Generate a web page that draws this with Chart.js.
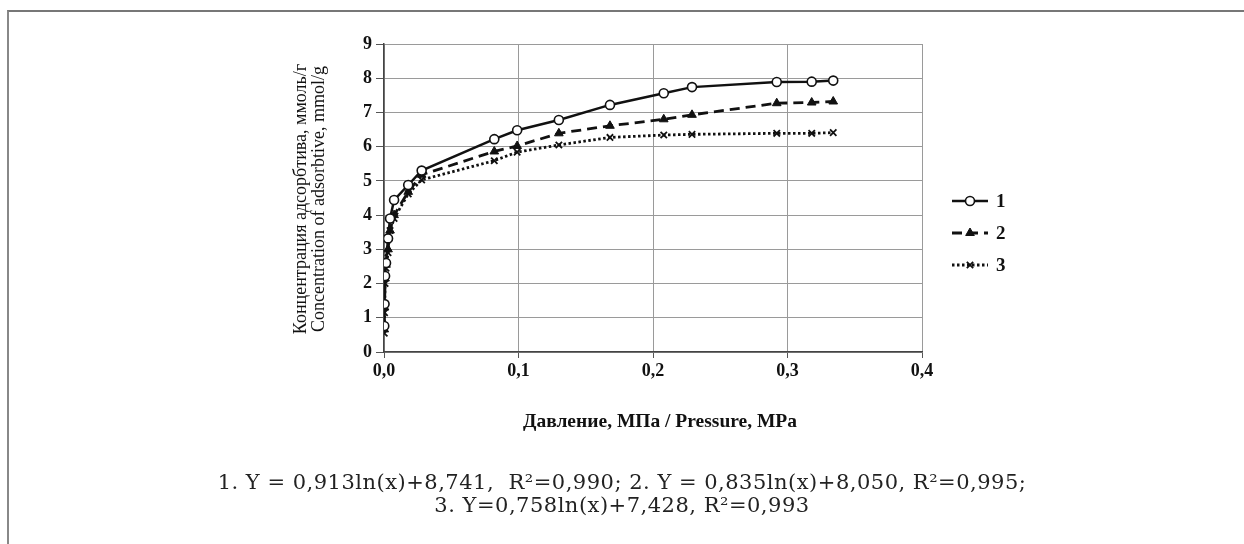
<!DOCTYPE html>
<html>
<head>
<meta charset="utf-8">
<script src="https://cdn.jsdelivr.net/npm/chart.js@4.4.1/dist/chart.umd.min.js"></script>
<style>
  html, body { margin: 0; padding: 0; background: #fff; }
  #wrap { position: relative; width: 1244px; height: 544px; overflow: hidden; }
  #frame { position: absolute; left: 7px; top: 10px; width: 1300px; height: 600px;
           border-top: 2px solid #777; border-left: 2px solid #888; }
  #chart { position: absolute; left: 0; top: 0; }
  #formula { position: absolute; left: 0; top: 471px; width: 1244px; text-align: center;
             font-family: "DejaVu Serif", serif; font-size: 21px; line-height: 23px; color: #222;
             letter-spacing: 0.5px; }
</style>
</head>
<body>
<div id="wrap">
  <div id="frame"></div>
  <canvas id="chart" width="1244" height="544"></canvas>
  <div id="formula">1. Y = 0,913ln(x)+8,741,&nbsp; R²=0,990; 2. Y = 0,835ln(x)+8,050, R²=0,995;<br>3. Y=0,758ln(x)+7,428, R²=0,993</div>
</div>
<script>
// Pressure, MPa (shared by all three isotherms)
const pressure = [0.0002, 0.0004, 0.0008, 0.0015, 0.003, 0.0045, 0.0075, 0.018, 0.028,
                  0.082, 0.099, 0.13, 0.168, 0.208, 0.229, 0.292, 0.318, 0.334];

// Concentration of adsorbtive, mmol/g
const series1 = [0.76, 1.40, 2.22, 2.60, 3.32, 3.90, 4.44, 4.88, 5.30,
                 6.22, 6.48, 6.78, 7.22, 7.56, 7.74, 7.89, 7.90, 7.93];
const series2 = [0.66, 1.30, 2.15, 2.55, 3.00, 3.55, 4.00, 4.68, 5.18,
                 5.86, 6.02, 6.39, 6.61, 6.80, 6.93, 7.27, 7.29, 7.32];
const series3 = [0.55, 1.15, 2.00, 2.45, 2.90, 3.55, 3.90, 4.62, 5.03,
                 5.59, 5.84, 6.05, 6.27, 6.34, 6.36, 6.39, 6.39, 6.41];

const seriesNames = ["1", "2", "3"];
const xTicks = [0, 0.1, 0.2, 0.3, 0.4];

const yTitle1 = "Концентрация адсорбтива, ммоль/г";
const yTitle2 = "Concentration of adsorbtive, mmol/g";
const xTitle = "Давление, МПа / Pressure, MPa";

function toPoints(values) {
  return values.map((y, i) => ({ x: pressure[i], y }));
}

const serif = "'Liberation Serif', 'Times New Roman', serif";

// Legend with line sample + marker, and the axis titles
const extrasPlugin = {
  id: "extras",
  afterDraw(chart) {
    const c = chart.ctx;
    c.save();
    c.fillStyle = "#111";

    // y title (two rotated lines)
    c.font = "18px " + serif;
    c.textAlign = "center";
    c.textBaseline = "middle";
    const cy = 199;
    c.save();
    c.translate(301, cy);
    c.rotate(-Math.PI / 2);
    c.fillText(yTitle1, 0, 0);
    c.restore();
    c.save();
    c.translate(319, cy);
    c.rotate(-Math.PI / 2);
    c.fillText(yTitle2, 0, 0);
    c.restore();

    // x title
    c.font = "bold 19.5px " + serif;
    c.fillText(xTitle, 660, 422);

    // legend
    const rows = [201, 233, 265];
    chart.data.datasets.forEach((ds, i) => {
      const y = rows[i];
      c.save();
      c.strokeStyle = ds.borderColor;
      c.lineWidth = ds.borderWidth;
      c.setLineDash(ds.borderDash || []);
      c.beginPath();
      c.moveTo(952, y);
      c.lineTo(988, y);
      c.stroke();
      c.restore();
      c.save();
      c.setLineDash([]);
      c.strokeStyle = ds.pointBorderColor;
      c.fillStyle = ds.pointBackgroundColor;
      c.lineWidth = ds.pointBorderWidth;
      Chart.helpers.drawPoint(c, {
        pointStyle: ds.pointStyle, radius: ds.pointRadius, rotation: 0, borderWidth: ds.pointBorderWidth
      }, 970, y);
      c.restore();
      c.fillStyle = "#111";
      c.font = "bold 19px " + serif;
      c.textAlign = "left";
      c.fillText(ds.label, 996, y + 1);
    });
    c.restore();
  }
};

new Chart(document.getElementById("chart").getContext("2d"), {
  type: "scatter",
  data: {
    datasets: [
      {
        label: seriesNames[0],
        data: toPoints(series1),
        showLine: true,
        borderColor: "#111",
        borderWidth: 2.5,
        pointStyle: "circle",
        pointRadius: 4.5,
        pointBackgroundColor: "#fff",
        pointBorderColor: "#111",
        pointBorderWidth: 1.6
      },
      {
        label: seriesNames[1],
        data: toPoints(series2),
        showLine: true,
        borderColor: "#111",
        borderWidth: 2.8,
        borderDash: [10, 6],
        pointStyle: "triangle",
        pointRadius: 5,
        pointBackgroundColor: "#111",
        pointBorderColor: "#111",
        pointBorderWidth: 1
      },
      {
        label: seriesNames[2],
        data: toPoints(series3),
        showLine: true,
        borderColor: "#111",
        borderWidth: 2.8,
        borderDash: [2.5, 2.5],
        pointStyle: "crossRot",
        pointRadius: 4.5,
        pointBackgroundColor: "#111",
        pointBorderColor: "#111",
        pointBorderWidth: 1.8
      }
    ]
  },
  options: {
    responsive: false,
    animation: false,
    layout: { padding: { left: 349, right: 322, top: 44, bottom: 162 } },
    plugins: { legend: { display: false }, tooltip: { enabled: false } },
    scales: {
      x: {
        type: "linear",
        min: 0,
        max: 0.4,
        afterBuildTicks: (scale) => { scale.ticks = xTicks.map((v) => ({ value: v })); },
        afterFit: (scale) => { scale.height = 30; },
        ticks: {
          color: "#111",
          font: { family: serif, size: 18, weight: "bold" },
          padding: 3,
          maxRotation: 0,
          callback: (v) => v.toFixed(1).replace(".", ",")
        },
        grid: { color: "#9a9a9a", lineWidth: 1, tickLength: 6, tickColor: "#555" },
        border: { color: "#444", width: 1.5 }
      },
      y: {
        min: 0,
        max: 9,
        afterFit: (scale) => { scale.width = 35; },
        ticks: {
          stepSize: 1,
          color: "#111",
          font: { family: serif, size: 18, weight: "bold" },
          padding: 4
        },
        grid: { color: "#9a9a9a", lineWidth: 1, tickLength: 8, tickColor: "#555" },
        border: { color: "#444", width: 1.5 }
      }
    }
  },
  plugins: [extrasPlugin]
});
</script>
</body>
</html>
